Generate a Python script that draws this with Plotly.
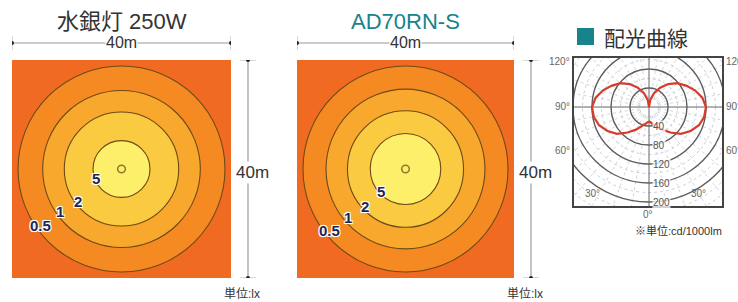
import numpy as np
import plotly.graph_objects as go

# ---------------- data ----------------
panel_titles = ["水銀灯 250W", "AD70RN-S"]
field_size_m = 40
lux_levels = [0.5, 1, 2, 5]
radii_mercury_m = [18.9, 14.4, 10.45, 5.2]
radii_ad70_m = [18.9, 14.65, 10.7, 6.5]
center_mark_radius_m = 0.7
lux_unit = "単位:lx"

polar_title = "配光曲線"
polar_angles_deg = [0, 10, 20, 30, 40, 50, 60, 70, 80, 90,
                    100, 110, 120, 130, 140, 150, 160, 170, 180]
polar_intensity_cd = [30, 35, 43, 55, 70, 88, 101, 112, 118, 120,
                      114, 103, 90, 78, 63, 47, 31, 15, 0]
polar_rings_cd = [40, 80, 120, 160, 200]
polar_minor_rings_cd = [20, 60, 100, 140, 180, 220, 240, 260]
polar_angle_ticks = ["120°", "90°", "60°", "30°", "0°"]
polar_unit = "※単位:cd/1000lm"

# ---------------- layout helpers ----------------
W, H = 738, 302


def xd(a, b):
    return [a / W, b / W]


def yd(top, bottom):
    return [1 - bottom / H, 1 - top / H]


def py(top):
    return 1 - top / H


def px(left):
    return left / W


band_colors = ["#F58A22", "#F8A82C", "#FACB40", "#FDEF6A"]
outer_color = "#F16A21"
contour_line = "#6E4A18"
teal = "#17838A"
dark = "#333333"
font_lat = "Liberation Sans, Arial, Noto Sans CJK JP, sans-serif"

fig = go.Figure()
shapes = []
annotations = []


def ann(**kw):
    kw.setdefault("xanchor", "center")
    kw.setdefault("yanchor", "middle")
    kw.setdefault("showarrow", False)
    annotations.append(kw)


half = field_size_m / 2
panels = [
    dict(ax="", radii=radii_mercury_m, vline=248, lab_ang=[35, 35, 37, 21]),
    dict(ax="2", radii=radii_ad70_m, vline=531, lab_ang=[39, 40, 43, 43]),
]

for i, p in enumerate(panels):
    xa = "x" + p["ax"]
    ya = "y" + p["ax"]
    fig.add_trace(go.Scatter(x=[-half, half], y=[-half, half], mode="markers",
                             marker=dict(opacity=0), xaxis=xa, yaxis=ya,
                             hoverinfo="skip", showlegend=False))
    shapes.append(dict(type="rect", xref=xa, yref=ya, x0=-half, x1=half, y0=-half, y1=half,
                       fillcolor=outer_color, line=dict(width=0), layer="below"))
    for r, c in zip(p["radii"], band_colors):
        shapes.append(dict(type="circle", xref=xa, yref=ya, x0=-r, x1=r, y0=-r, y1=r,
                           fillcolor=c, line=dict(color=contour_line, width=1.1), layer="below"))
    cm = center_mark_radius_m
    shapes.append(dict(type="circle", xref=xa, yref=ya, x0=-cm, x1=cm, y0=-cm, y1=cm,
                       line=dict(color="#8C7A2A", width=1.5), layer="below"))
    for lvl, r, a in zip(lux_levels, p["radii"], p["lab_ang"]):
        t = np.radians(a)
        ann(x=-0.95 * r * np.cos(t), y=-0.95 * r * np.sin(t), xref=xa, yref=ya,
            text=f"{lvl:g}",
            font=dict(family=font_lat, size=15, color="#1D2655", weight="bold",
                      shadow="1px 1px 0 #fff, -1px -1px 0 #fff, 1px -1px 0 #fff, -1px 1px 0 #fff, 0 0 2px #fff"))
    ann(x=0, y=py(21), xref=xa, yref="paper", text=panel_titles[i],
        font=dict(family=font_lat, size=22, color=dark if i == 0 else teal))
    # horizontal dimension line
    yh = py(43)
    shapes.append(dict(type="line", xref=xa, yref="paper", x0=-half, x1=half, y0=yh, y1=yh,
                       line=dict(color="#9A9A9A", width=1.2)))
    for xe in (-half, half):
        shapes.append(dict(type="line", xref=xa, yref="paper", x0=xe, x1=xe, y0=py(36), y1=py(50),
                           line=dict(color="#B0B0B0", width=1)))
        shapes.append(dict(type="circle", xref=xa, yref="paper", xsizemode="pixel", ysizemode="pixel",
                           xanchor=xe, yanchor=yh, x0=-2, x1=2, y0=-2, y1=2,
                           fillcolor="#222", line=dict(width=0)))
    ann(x=0, y=yh, xref=xa, yref="paper", text=f"{field_size_m}m", bgcolor="white", borderpad=0,
        font=dict(family=font_lat, size=16, color=dark))
    # vertical dimension line
    xv = px(p["vline"])
    shapes.append(dict(type="line", xref="paper", yref=ya, x0=xv, x1=xv, y0=-half, y1=half,
                       line=dict(color="#9A9AA6", width=1.2)))
    for ye in (-half, half):
        shapes.append(dict(type="line", xref="paper", yref=ya, x0=px(p["vline"] - 8), x1=px(p["vline"] + 8),
                           y0=ye, y1=ye, line=dict(color="#B0B0B0", width=1)))
        shapes.append(dict(type="circle", xref="paper", yref=ya, xsizemode="pixel", ysizemode="pixel",
                           xanchor=xv, yanchor=ye, x0=-2, x1=2, y0=-2, y1=2,
                           fillcolor="#222", line=dict(width=0)))
    ann(x=px(p["vline"] + 4), y=0, xref="paper", yref=ya, yshift=-3,
        text=f"{field_size_m}m", bgcolor="white", borderpad=1,
        font=dict(family=font_lat, size=17, color=dark))
    ann(x=px(p["vline"] + 14), y=py(294), xref="paper", yref="paper",
        xanchor="right", text=lux_unit,
        font=dict(family=font_lat, size=12, color=dark))

# ---------------- polar (light distribution) panel ----------------
th = np.radians(polar_angles_deg)
r = np.array(polar_intensity_cd, dtype=float)
xr = r * np.sin(th)
yr = -r * np.cos(th)
curve_x = np.concatenate([xr, -xr[::-1]])
curve_y = np.concatenate([yr, yr[::-1]])

for ang in range(0, 360, 10):
    if ang % 90 == 0:
        continue
    t = np.radians(ang)
    shapes.append(dict(type="line", xref="x3", yref="y3", x0=20 * np.sin(t), y0=-20 * np.cos(t),
                       x1=400 * np.sin(t), y1=-400 * np.cos(t),
                       line=dict(color="#C4CCD2", width=0.8, dash="dot"), layer="below"))
for rr in polar_minor_rings_cd:
    shapes.append(dict(type="circle", xref="x3", yref="y3", x0=-rr, x1=rr, y0=-rr, y1=rr,
                       line=dict(color="#BFCAD2", width=0.9, dash="dot"), layer="below"))
for rr in polar_rings_cd:
    shapes.append(dict(type="circle", xref="x3", yref="y3", x0=-rr, x1=rr, y0=-rr, y1=rr,
                       line=dict(color="#5C5C5C", width=1.4), layer="below"))
shapes.append(dict(type="line", xref="x3", yref="y3", x0=-400, x1=400, y0=0, y1=0,
                   line=dict(color="#666", width=1), layer="below"))
shapes.append(dict(type="line", xref="x3", yref="y3", x0=0, x1=0, y0=-400, y1=400,
                   line=dict(color="#666", width=1), layer="below"))

fig.add_trace(go.Scatter(x=curve_x, y=curve_y, mode="lines", xaxis="x3", yaxis="y3",
                         line=dict(color="#D83A2C", width=2.2), showlegend=False, hoverinfo="skip"))

for rr in polar_rings_cd:
    ann(x=6, y=-rr, xref="x3", yref="y3", xanchor="left",
        text=str(rr), bgcolor="rgba(255,255,255,0.75)", borderpad=0,
        font=dict(family=font_lat, size=10, color="#555"))

ang_pos = {
    "120°": [(572, 62, "right"), (724, 62, "left")],
    "90°": [(572, 106, "right"), (724, 106, "left")],
    "60°": [(572, 150, "right"), (724, 150, "left")],
    "30°": [(592, 194, "center"), (698, 194, "center")],
    "0°": [(648, 214, "center")],
}
for lab in polar_angle_ticks:
    for (lx, ly, anc) in ang_pos[lab]:
        ann(x=px(lx), y=py(ly), xref="paper", yref="paper", xanchor=anc, text=lab,
            font=dict(family=font_lat, size=10, color="#666"))

shapes.append(dict(type="rect", xref="paper", yref="paper", x0=px(577), x1=px(594), y0=py(45), y1=py(28),
                   fillcolor=teal, line=dict(width=0)))
ann(x=px(602), y=py(37), xref="paper", yref="paper", xanchor="left", text=polar_title,
    font=dict(family="Noto Sans CJK JP, sans-serif", size=21, color=dark))
ann(x=px(724), y=py(230), xref="paper", yref="paper", xanchor="right", text=polar_unit,
    font=dict(family=font_lat, size=11, color="#333"))

noax = dict(showgrid=False, zeroline=False, showticklabels=False, ticks="")
fig.update_layout(
    width=W, height=H, margin=dict(l=0, r=0, t=0, b=0),
    paper_bgcolor="white", plot_bgcolor="white", showlegend=False,
    xaxis=dict(domain=xd(12, 231), range=[-half, half], anchor="y", **noax),
    yaxis=dict(domain=yd(60, 278), range=[-half, half], anchor="x", **noax),
    xaxis2=dict(domain=xd(297, 514), range=[-half, half], anchor="y2", **noax),
    yaxis2=dict(domain=yd(60, 278), range=[-half, half], anchor="x2", **noax),
    xaxis3=dict(domain=xd(574, 722), range=[-157.9, 153.7], anchor="y3", showline=True,
                mirror=True, linecolor="#444", linewidth=1.5, **noax),
    yaxis3=dict(domain=yd(58, 206), range=[-208.4, 103.2], anchor="x3", showline=True,
                mirror=True, linecolor="#444", linewidth=1.5, **noax),
    shapes=shapes, annotations=annotations,
)

fig.write_html("out.html", config={"displayModeBar": False},
               post_script="document.body.style.margin='0';document.body.style.overflow='hidden';")
